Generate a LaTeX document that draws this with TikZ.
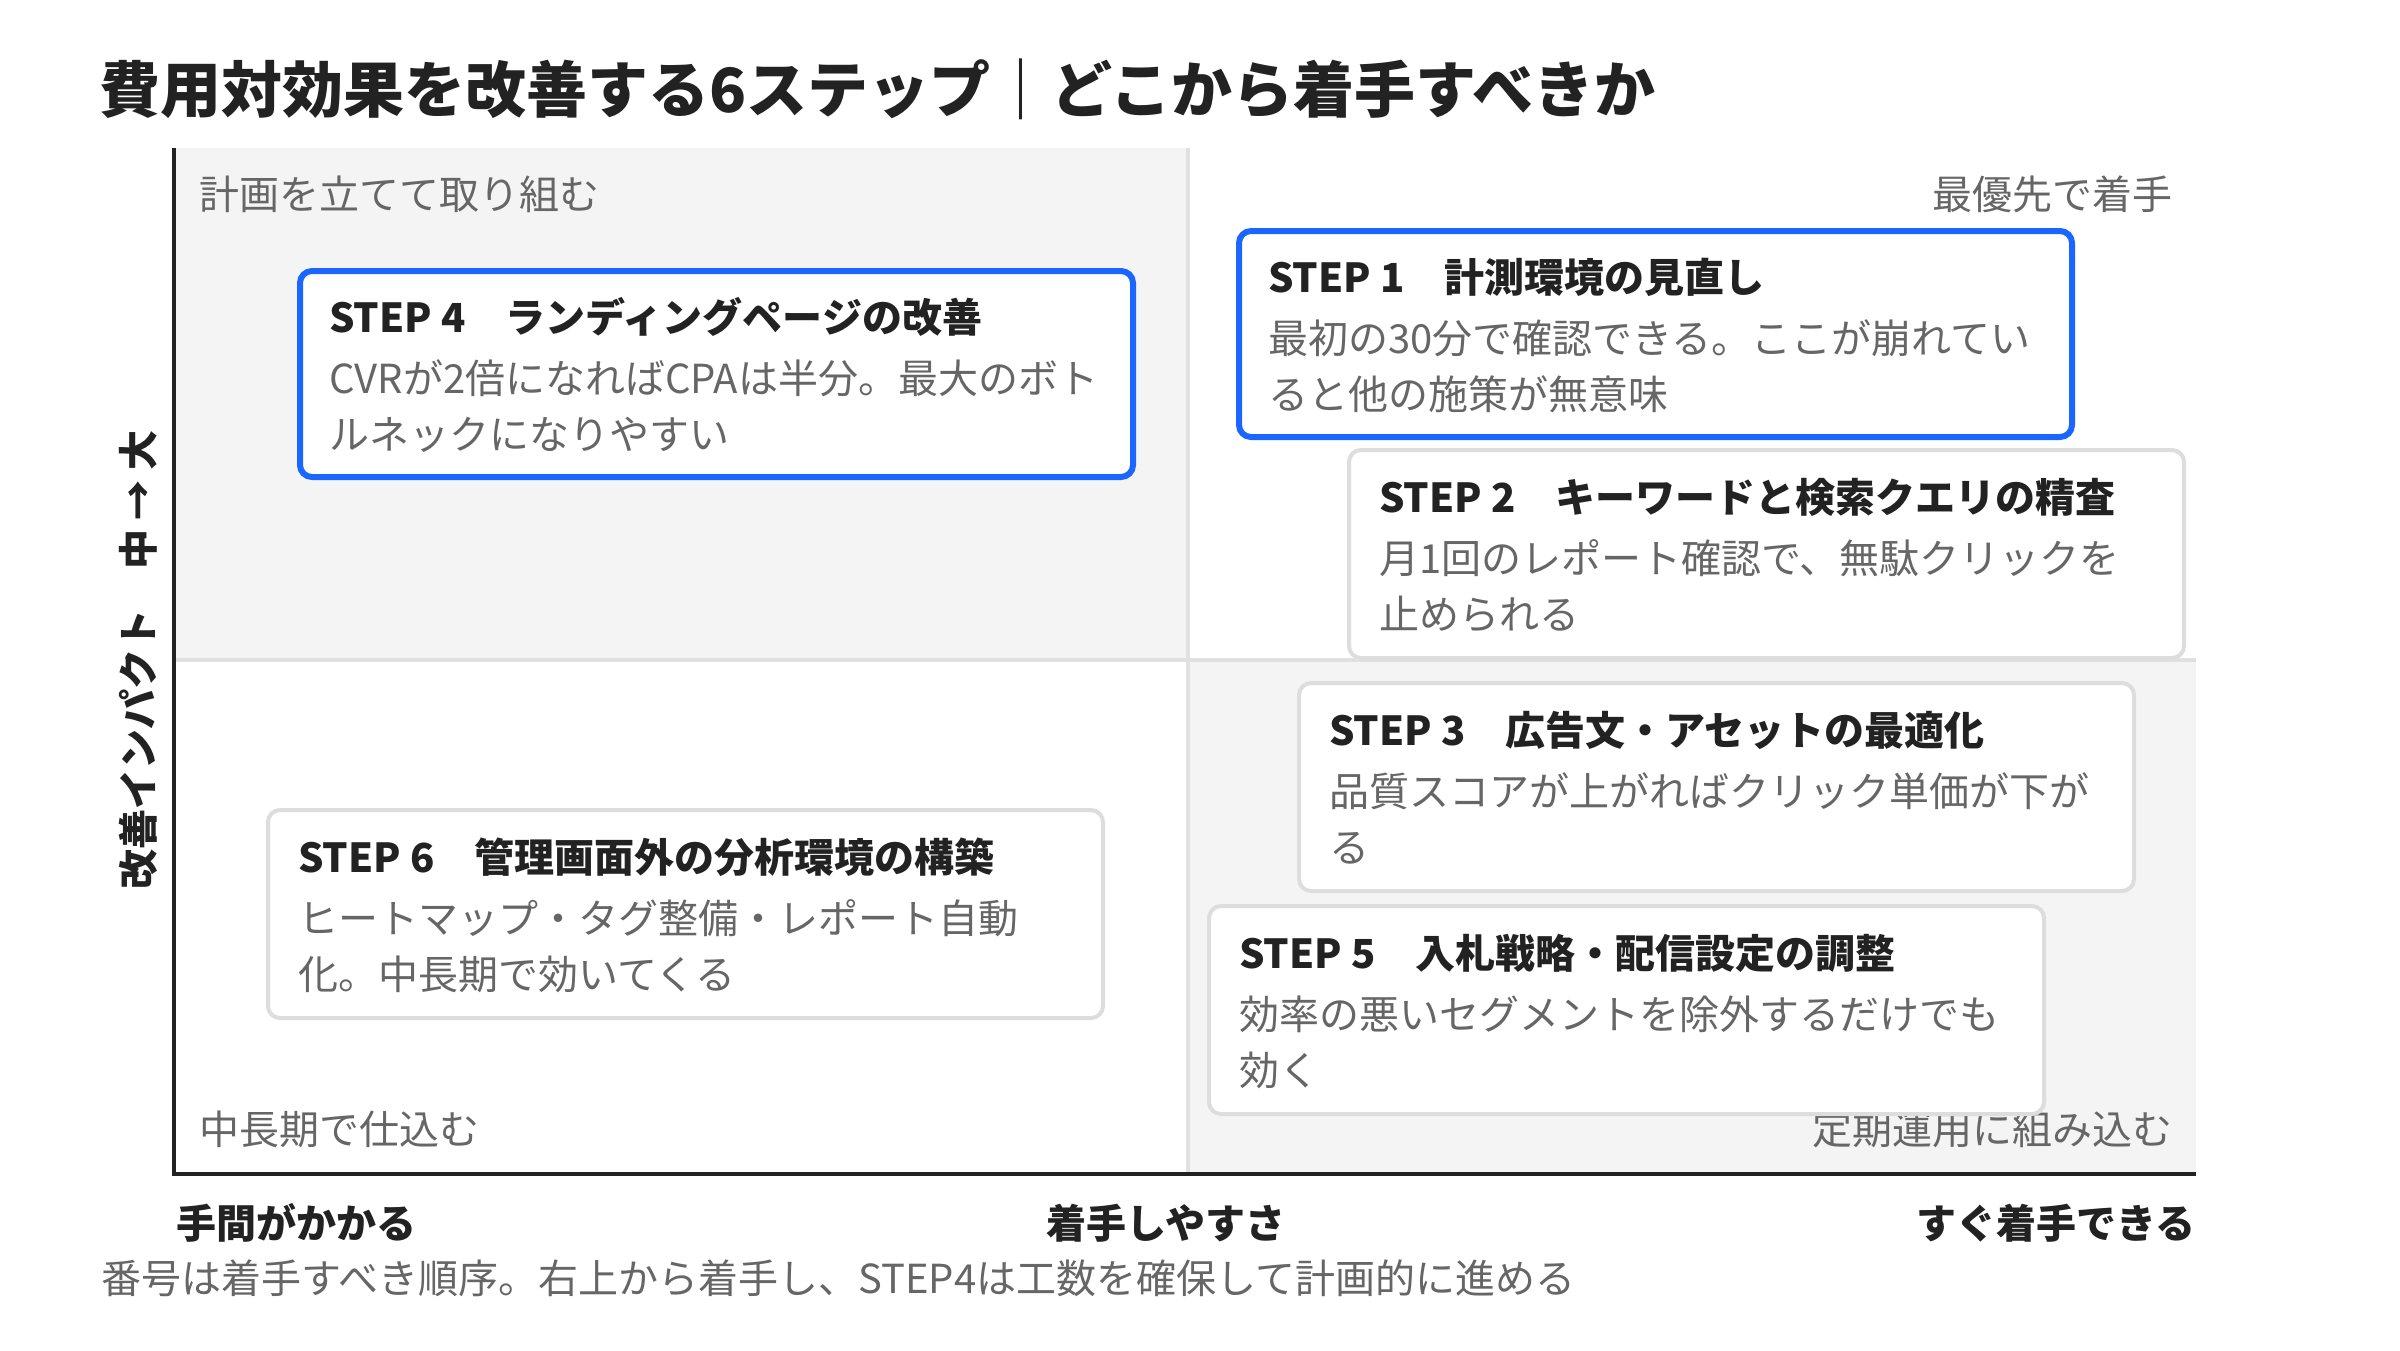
\documentclass[tikz,border=0pt]{standalone}
\usepackage{fontspec}
\setmainfont{Noto Sans CJK JP}
\usetikzlibrary{calc}
\definecolor{ink}{HTML}{222222}
\definecolor{bodygray}{HTML}{666666}
\definecolor{quadgray}{HTML}{F4F4F4}
\definecolor{divgray}{HTML}{E0E0E0}
\definecolor{cardline}{HTML}{DDDDDD}
\definecolor{stepblue}{HTML}{1A66FF}
\tikzset{
  quadfill/.style={fill=quadgray},
  divider/.style={draw=divgray, line width=4pt},
  axisline/.style={draw=ink, line width=4pt},
  cardgray/.style={draw=cardline, line width=4pt, fill=white, rounded corners=12pt,
    anchor=north west, minimum width=835pt, minimum height=208pt, inner sep=0pt},
  cardblue/.style={draw=stepblue, line width=6pt, fill=white, rounded corners=12pt,
    anchor=north west, minimum width=833pt, minimum height=206pt, inner sep=0pt},
  cardtitle/.style={anchor=base west, inner sep=0pt, text=ink, font=\fontsize{40}{48}\selectfont\bfseries},
  cardbody/.style={anchor=base west, inner sep=0pt, text=bodygray, font=\fontsize{40}{48}\selectfont},
  quadlabel/.style={inner sep=0pt, text=bodygray, font=\fontsize{40}{48}\selectfont},
  axislabel/.style={inner sep=0pt, text=ink, font=\fontsize{40}{48}\selectfont\bfseries},
  titletext/.style={anchor=base west, inner sep=0pt, text=ink, font=\fontsize{61}{72}\selectfont\bfseries},
}
\newcommand\stepcard[7]{%
  \node[#2] (#1) at (#3,#4) {};
  \node[cardtitle] (#1t) at ($(#1.north west)+(32,64)$) {#5};
  \node[cardbody] (#1a) at ($(#1.north west)+(32,125)$) {#6};
  \node[cardbody] (#1b) at ($(#1.north west)+(32,181)$) {#7};
}
\begin{document}
\begin{tikzpicture}[x=1pt,y=-1pt]
\useasboundingbox[fill=white] (0,0) rectangle (2400,1350);
% title
\node[titletext] (title) at (99,112) {費用対効果を改善する6ステップ｜どこから着手すべきか};
% quadrants
\fill[quadfill] (176,148) rectangle (1188,660);
\fill[quadfill] (1188,660) rectangle (2196,1174);
\draw[divider] (1188,148) -- (1188,1174);
\draw[divider] (176,660) -- (2196,660);
\draw[axisline] (174,148) -- (174,1174) -- (2196,1174);
% quadrant labels
\node[quadlabel, anchor=base west] (qtl) at (199,209) {計画を立てて取り組む};
\node[quadlabel, anchor=base east] (qtr) at (2173,209) {最優先で着手};
\node[quadlabel, anchor=base west] (qbl) at (199,1144) {中長期で仕込む};
\node[quadlabel, anchor=base east] (qbr) at (2173,1144) {定期運用に組み込む};
% cards
\stepcard{s4}{cardblue}{297}{268}{STEP 4　ランディングページの改善}{CVRが2倍になればCPAは半分。最大のボト}{ルネックになりやすい}
\stepcard{s1}{cardblue}{1236}{228}{STEP 1　計測環境の見直し}{最初の30分で確認できる。ここが崩れてい}{ると他の施策が無意味}
\stepcard{s2}{cardgray}{1347}{448}{STEP 2　キーワードと検索クエリの精査}{月1回のレポート確認で、無駄クリックを}{止められる}
\stepcard{s3}{cardgray}{1297}{681}{STEP 3　広告文・アセットの最適化}{品質スコアが上がればクリック単価が下が}{る}
\stepcard{s5}{cardgray}{1207}{904}{STEP 5　入札戦略・配信設定の調整}{効率の悪いセグメントを除外するだけでも}{効く}
\stepcard{s6}{cardgray}{266}{808}{STEP 6　管理画面外の分析環境の構築}{ヒートマップ・タグ整備・レポート自動}{化。中長期で効いてくる}
% axis labels
\node[axislabel, anchor=base west] (xl) at (176,1238) {手間がかかる};
\node[axislabel, anchor=base] (xm) at (1166,1238) {着手しやすさ};
\node[axislabel, anchor=base east] (xr) at (2196,1238) {すぐ着手できる};
\node[axislabel, rotate=90, anchor=center] (yl) at (138,660) {改善インパクト　中 → 大};
% footer
\node[quadlabel, anchor=base west] (foot) at (101,1293) {番号は着手すべき順序。右上から着手し、STEP4は工数を確保して計画的に進める};
\end{tikzpicture}
\end{document}
